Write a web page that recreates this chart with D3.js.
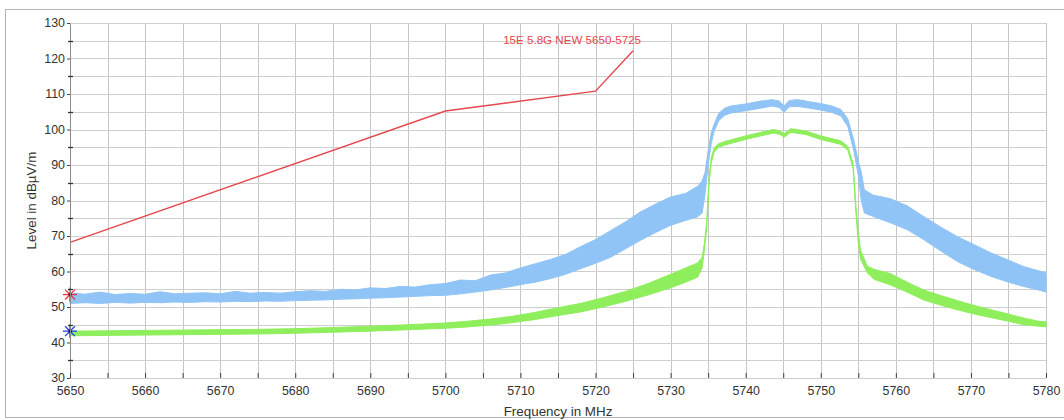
<!DOCTYPE html>
<html>
<head>
<meta charset="utf-8">
<script src="https://cdn.jsdelivr.net/npm/d3@7"></script>
<style>
  body { margin: 0; background: #fff; }
  text { font-family: "Liberation Sans", Arial, sans-serif; fill: #333; }
</style>
</head>
<body>
<script>
// peak trace (light blue), read as a lower / upper envelope of the noise band
var blueFreq = [5650, 5652, 5654, 5656, 5658, 5660, 5662, 5664, 5666, 5668, 5670, 5672, 5674, 5676, 5678,
  5680, 5682, 5684, 5686, 5688, 5690, 5692, 5694, 5696, 5698, 5700, 5702, 5704, 5706, 5708, 5710,
  5712, 5714, 5716, 5718, 5720, 5722, 5724, 5726, 5728, 5730, 5732, 5733.6, 5734.2, 5734.6, 5735,
  5735.4, 5735.8, 5736.4, 5737.2, 5738, 5740, 5742, 5743.5, 5744.5, 5745.1, 5745.8, 5747, 5748.5,
  5750, 5751.5, 5752.7, 5753.6, 5754.4, 5755, 5755.4, 5755.8, 5757, 5759.3, 5761.5, 5763.7, 5766,
  5768.2, 5770.5, 5772.7, 5775, 5777, 5779, 5780];
var blueLow = [51.0, 51.2, 51.0, 51.3, 51.1, 51.3, 51.2, 51.4, 51.3, 51.5, 51.4, 51.6, 51.5, 51.7, 51.6,
  51.8, 51.9, 52.0, 52.2, 52.3, 52.5, 52.6, 52.8, 53.0, 53.2, 53.3, 53.7, 54.2, 54.8, 55.5, 56.3,
  57.0, 58.0, 59.2, 60.8, 62.3, 64.0, 66.4, 68.8, 71.0, 73.0, 74.4, 75.4, 76.5, 82, 90,
  96, 99.5, 102.5, 104, 104.6, 105.3, 106, 106.6, 106.2, 104.8, 106.4, 106.5, 106.0,
  105.5, 104.8, 103.8, 100.8, 94, 87, 80, 76.5, 75.5, 73.7, 71.8, 69.0, 65.8,
  62.8, 60.5, 58.6, 57.0, 55.8, 54.8, 54.2];
var blueHigh = [54.0, 53.6, 54.2, 53.5, 53.8, 53.6, 54.3, 53.7, 53.9, 54.0, 53.7, 54.4, 53.9, 54.1, 53.9,
  54.3, 54.6, 54.4, 55.0, 54.8, 55.4, 55.2, 55.8, 55.6, 56.3, 56.6, 57.6, 57.4, 59.0, 59.6, 61.0,
  62.2, 63.4, 64.8, 67.0, 69.0, 71.5, 74.0, 76.8, 79.0, 81.0, 82.0, 84.0, 85.5, 88, 94,
  99, 101.5, 104.5, 106, 106.6, 107.2, 108, 108.4, 108, 106.6, 108.2, 108.4, 107.8,
  107.3, 106.6, 105.6, 103, 97, 91, 88, 83, 81.5, 80.5, 78.5, 75.5, 72.5,
  69.8, 67.5, 65.2, 63.2, 61.4, 60.2, 59.6];

// average trace (green)
var greenFreq = [5650, 5655, 5660, 5665, 5670, 5675, 5680, 5685, 5690, 5695, 5700, 5703, 5706, 5709,
  5712, 5715, 5718, 5721, 5724, 5727, 5730, 5732, 5733.6, 5734.2, 5734.5, 5734.8, 5735.1, 5735.4,
  5735.8, 5736.4, 5737.2, 5740, 5742, 5743.7, 5744.6, 5745.1, 5746, 5748, 5750, 5752.7, 5753.6,
  5754.3, 5754.7, 5755, 5755.3, 5756.2, 5757.1, 5759.3, 5761.5, 5763.7, 5766, 5768.2, 5770.5,
  5772.7, 5775, 5777, 5779, 5780];
var greenLow = [41.9, 42.0, 42.1, 42.2, 42.3, 42.4, 42.6, 42.9, 43.2, 43.6, 44.0, 44.4, 44.9, 45.6,
  46.5, 47.6, 48.6, 50.0, 51.6, 53.4, 55.4, 57.0, 58.4, 61, 66, 72, 84, 90.5,
  93.6, 95, 95.6, 97.2, 98.2, 99.0, 98.6, 97.8, 99.2, 98.6, 97.2, 95.8, 94.2,
  89, 76, 68, 63.5, 59.6, 57.8, 56.2, 54.2, 52.0, 50.5, 49.2, 48.0,
  47.0, 46.0, 45.0, 44.6, 44.4];
var greenHigh = [43.2, 43.3, 43.4, 43.5, 43.6, 43.7, 43.9, 44.2, 44.6, 45.0, 45.5, 46.0, 46.6, 47.4,
  48.5, 49.8, 51.0, 52.6, 54.4, 56.6, 59.2, 61.0, 62.4, 64, 68, 74, 86, 92,
  94.8, 96, 96.6, 98.2, 99.2, 100.0, 99.6, 98.8, 100.2, 99.6, 98.2, 96.8, 95.2,
  90.5, 78, 71, 66, 61.5, 60.6, 59.4, 57.0, 54.8, 53.2, 51.8, 50.4,
  49.2, 48.0, 46.9, 46.0, 45.8];

// limit line
var limitFreq = [5650, 5700, 5720, 5725];
var limitLevel = [68.2, 105.2, 110.8, 122.2];
var limitName = "15E 5.8G NEW 5650-5725";

// markers at the left edge
var markerFreq = [5650, 5650];
var markerLevel = [53.5, 43.2];
var markerColor = ["#e8343c", "#2344e0"];

var xTicks = d3.range(5650, 5781, 5);
var yTicks = d3.range(30, 131, 5);

var W = 1064, H = 420;
var margin = {top: 23, right: 18, bottom: 42, left: 70}
  , width = W - margin.left - margin.right
  , height = H - margin.top - margin.bottom;

var svg = d3.select("body").append("svg")
    .attr("width", W)
    .attr("height", H);

// outer frame
svg.append("rect")
    .attr("x", 5.5).attr("y", 9.5)
    .attr("width", 1080).attr("height", 408)
    .style("fill", "none")
    .style("stroke", "#b4b4b4");

var g = svg.append("g")
    .attr("transform", "translate(" + margin.left + "," + margin.top + ")");

var xScale = d3.scaleLinear().domain([5650, 5780]).range([0, width]);
var yScale = d3.scaleLinear().domain([30, 130]).range([height, 0]);

// grid
g.append("g").selectAll("line").data(xTicks).enter().append("line")
    .attr("x1", function (d) { return Math.round(xScale(d)) + 0.5; })
    .attr("x2", function (d) { return Math.round(xScale(d)) + 0.5; })
    .attr("y1", 0).attr("y2", height)
    .style("stroke", "#c6c6c6");
g.append("g").selectAll("line").data(yTicks).enter().append("line")
    .attr("x1", 0).attr("x2", width)
    .attr("y1", function (d) { return Math.round(yScale(d)) + 0.5; })
    .attr("y2", function (d) { return Math.round(yScale(d)) + 0.5; })
    .style("stroke", "#cfcfcf");

function band(freq, lo, hi, color) {
    var rows = freq.map(function (f, i) { return {f: f, lo: lo[i], hi: hi[i]}; });
    var area = d3.area()
        .x(function (d) { return xScale(d.f); })
        .y0(function (d) { return yScale(d.lo); })
        .y1(function (d) { return yScale(d.hi); });
    g.append("path")
        .datum(rows)
        .attr("d", area)
        .style("fill", color)
        .style("stroke", color)
        .style("stroke-width", 1);
}
band(blueFreq, blueLow, blueHigh, "#90c4f6");
band(greenFreq, greenLow, greenHigh, "#8fee5c");

// limit line
var limitRows = limitFreq.map(function (f, i) { return {f: f, v: limitLevel[i]}; });
g.append("path")
    .datum(limitRows)
    .attr("d", d3.line()
        .x(function (d) { return xScale(d.f); })
        .y(function (d) { return yScale(d.v); }))
    .style("fill", "none")
    .style("stroke", "#e5474e")
    .style("stroke-width", 1.4);
g.append("text")
    .attr("x", xScale(5725) + 8)
    .attr("y", yScale(122.2) - 7)
    .attr("text-anchor", "end")
    .style("font-size", "11.6px")
    .style("fill", "#e5474e")
    .text(limitName);

// asterisk markers
markerFreq.forEach(function (f, i) {
    var m = g.append("g")
        .attr("transform", "translate(" + xScale(f) + "," + yScale(markerLevel[i]) + ")");
    [0, 45, 90, 135].forEach(function (a) {
        m.append("line")
            .attr("x1", -7).attr("x2", 7)
            .attr("transform", "rotate(" + a + ")")
            .style("stroke", markerColor[i])
            .style("stroke-width", 1.3);
    });
    m.append("circle").attr("r", 1.8).style("fill", i === 0 ? "#a0101a" : "#102090");
});

// y axis
var yAxis = g.append("g")
    .call(d3.axisLeft(yScale)
        .tickValues(d3.range(30, 131, 10))
        .tickSize(3).tickSizeOuter(0).tickPadding(2));
yAxis.select(".domain").style("stroke", "#8a8a8a");
yAxis.selectAll(".tick line").style("stroke", "#444");
yAxis.selectAll("text").style("font-size", "12.4px").style("fill", "#333");

g.append("g").selectAll("line").data(d3.range(35, 130, 10)).enter().append("line")
    .attr("x1", -2).attr("x2", 3)
    .attr("y1", function (d) { return Math.round(yScale(d)) + 0.5; })
    .attr("y2", function (d) { return Math.round(yScale(d)) + 0.5; })
    .style("stroke", "#333")
    .style("stroke-width", 1.3);

// x axis
var xAxis = g.append("g")
    .attr("transform", "translate(0," + height + ")")
    .call(d3.axisBottom(xScale)
        .tickValues(xTicks)
        .tickFormat(function (d) { return d % 10 === 0 ? d : ""; })
        .tickSize(-5).tickSizeOuter(0).tickPadding(8));
xAxis.select(".domain").remove();
xAxis.selectAll(".tick line").style("stroke", "#444");
xAxis.selectAll("text").style("font-size", "12.4px").style("fill", "#333");

// axis titles
svg.append("text")
    .attr("text-anchor", "middle")
    .attr("x", margin.left + width / 2)
    .attr("y", 416)
    .style("font-size", "13.4px")
    .text("Frequency in MHz");

svg.append("text")
    .attr("text-anchor", "middle")
    .attr("transform", "translate(36," + (margin.top + height / 2) + ")rotate(-90)")
    .style("font-size", "13.4px")
    .text("Level in dBµV/m");
</script>
</body>
</html>
